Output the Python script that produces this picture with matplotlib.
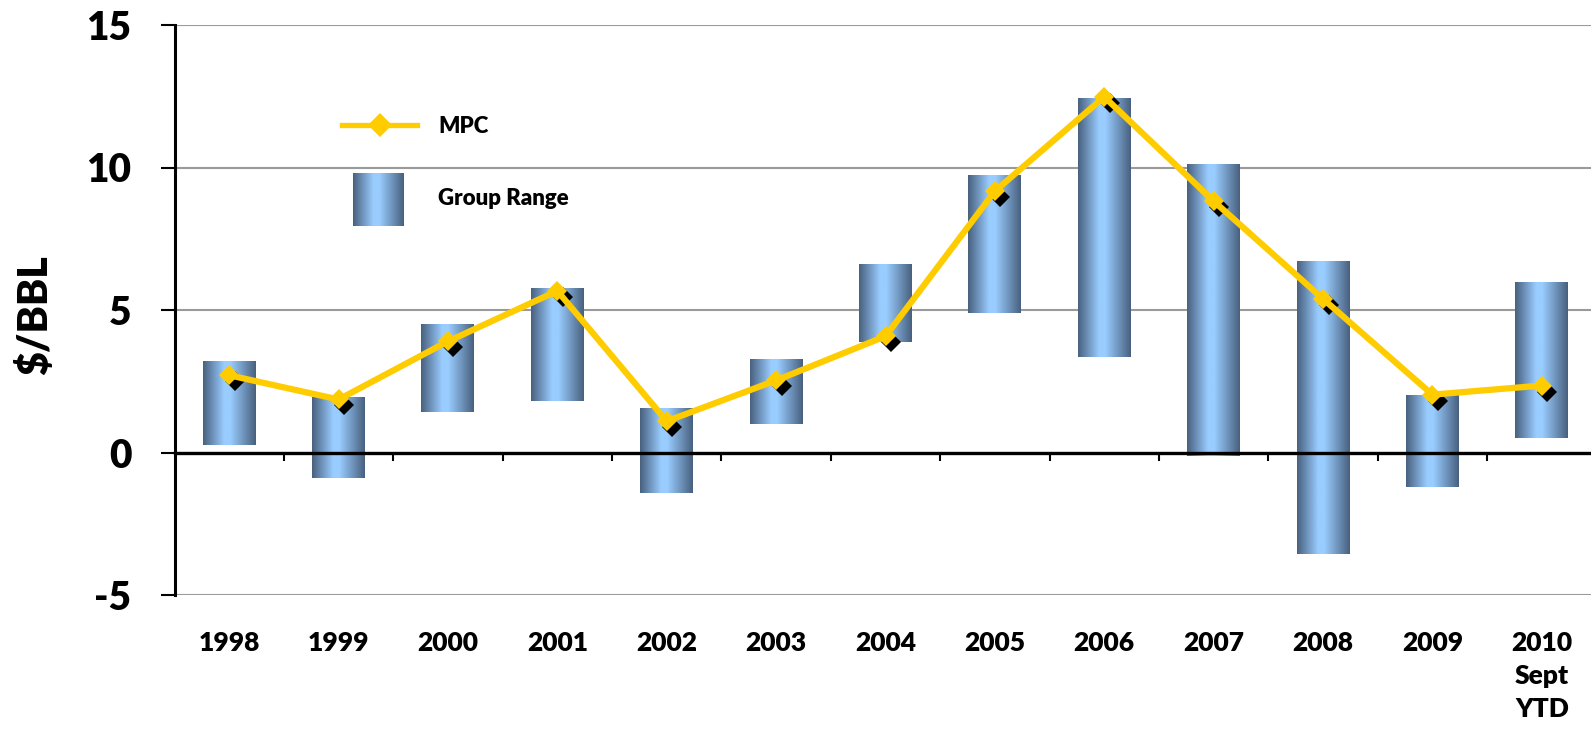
import numpy as np
import matplotlib
matplotlib.use("Agg")
import matplotlib.pyplot as plt
from matplotlib.lines import Line2D
from matplotlib.transforms import ScaledTranslation

plt.rcParams['font.family'] = ['Lato', 'DejaVu Sans']
plt.rcParams['font.weight'] = 'heavy'

# margin data, $/BBL
years = ['1998', '1999', '2000', '2001', '2002', '2003', '2004',
         '2005', '2006', '2007', '2008', '2009', '2010\nSept\nYTD']
group_low = [0.26, -0.9, 1.41, 1.8, -1.42, 0.99, 3.87, 4.9, 3.35, -0.13, -3.57, -1.22, 0.5]
group_high = [3.19, 1.93, 4.49, 5.74, 1.54, 3.24, 6.6, 9.72, 12.42, 10.1, 6.7, 2.0, 5.96]
mpc = [2.71, 1.86, 3.9, 5.67, 1.1, 2.53, 4.08, 9.17, 12.48, 8.82, 5.39, 2.03, 2.35]
yticks = [-5, 0, 5, 10, 15]

W, H = 1591, 733
fig = plt.figure(figsize=(W / 100, H / 100), dpi=100)
ax = fig.add_axes([174.5 / W, 1 - 595 / H, 1422 / W, 570 / H])

# horizontal shading for the range bars: dark edges, light centre
dark = np.array([0x48, 0x60, 0x7e]) / 255
light = np.array([0x99, 0xcc, 0xff]) / 255
t = np.linspace(0, 1, 256)
w = np.interp(t, [0, 0.4, 0.52, 1.0], [0, 1, 1, 0])
grad = (dark[None, :] * (1 - w)[:, None] + light[None, :] * w[:, None])[None, :, :]

x = np.arange(len(years))
low = np.array(group_low)
high = np.array(group_high)
bars = ax.bar(x, high - low, bottom=low, width=0.484, color='none', zorder=2)
for p in bars:
    ax.imshow(grad, extent=[p.get_x(), p.get_x() + p.get_width(),
                            p.get_y(), p.get_y() + p.get_height()],
              aspect='auto', interpolation='bilinear', zorder=2)

# MPC line with dark marker shadows
shadow = ax.transData + ScaledTranslation(0.055, -0.06, fig.dpi_scale_trans)
ax.plot(x, mpc, 'D', color='black', ms=10.5, mew=0, transform=shadow, zorder=4)
ax.plot(x, mpc, color='#ffcc00', lw=4.5, marker='D', ms=10.5, mew=0, zorder=5)

ax.set_xlim(-0.5, len(years) - 0.5)
ax.set_ylim(-5, 15)

# y axis
ax.set_yticks(yticks, [str(v) for v in yticks])
ax.tick_params(axis='y', direction='out', length=10, width=1.5, pad=21,
               labelsize=28, color='black')
ax.yaxis.grid(True, color='#9a9a9a', lw=1.5)
ax.set_axisbelow(True)
for s in ['top', 'right', 'bottom']:
    ax.spines[s].set_visible(False)
ax.spines['left'].set_linewidth(2.2)

# category labels below the plot
ax.set_xticks(x, years)
ax.tick_params(axis='x', length=0, pad=26, labelsize=19)
for lab in ax.get_xticklabels():
    lab.set_linespacing(1.45)

# zero line with ticks between categories
zero = ax.secondary_xaxis(0, transform=ax.transData)
zero.set_xticks(np.arange(0.5, len(years) - 0.5), [])
zero.spines['bottom'].set_linewidth(2.4)
zero.tick_params(direction='out', length=6, width=1.5, color='black')
zero.set_zorder(3)

fig.text(35 / W, 1 - 315 / H, '$/BBL', rotation=90, ha='center', va='center',
         fontsize=29.5)

# legend
fig.add_artist(Line2D([342 / W, 417 / W], [1 - 125 / H] * 2, transform=fig.transFigure,
                      color='#ffcc00', lw=3.8))
fig.add_artist(Line2D([380 / W], [1 - 125 / H], transform=fig.transFigure,
                      marker='D', ms=12, mew=0, color='#ffcc00'))
fig.text(438 / W, 1 - 133 / H, 'MPC', va='baseline', fontsize=16)
sw = fig.add_axes([353 / W, 1 - 226 / H, 51 / W, 53 / H])
sw.imshow(grad, aspect='auto', interpolation='bilinear')
sw.axis('off')
fig.text(438 / W, 1 - 205 / H, 'Group Range', va='baseline', fontsize=16)

fig.savefig('out.png', dpi=100)
